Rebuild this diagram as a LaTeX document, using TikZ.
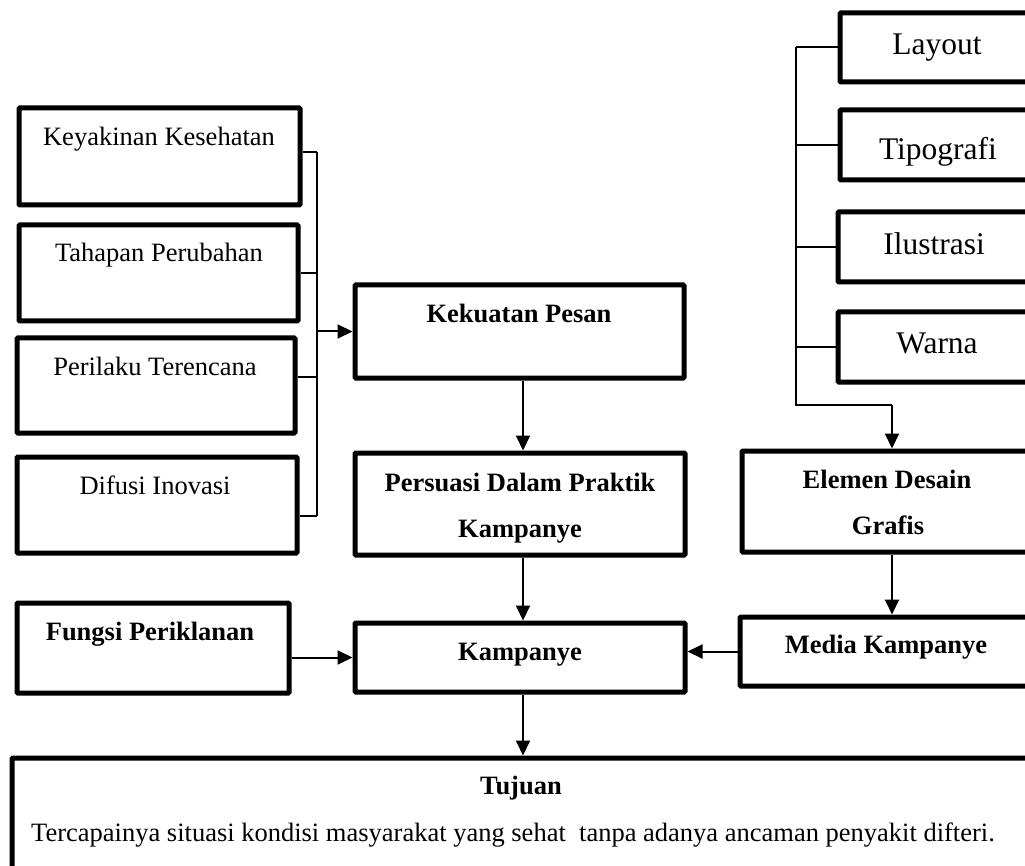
\documentclass[tikz,border=0pt]{standalone}
\usepackage{fontspec}
\setmainfont{Liberation Serif}
\usetikzlibrary{arrows.meta,calc}
\begin{document}
\begin{tikzpicture}[x=1pt,y=-1pt,
 box/.style={draw,line width=5pt,rounded corners=1pt,inner sep=0pt},
 conn/.style={line width=2pt},
 arr/.style={conn,-{Triangle[length=15pt,width=14pt]}},
 lbl/.style={anchor=base,inner sep=0pt,font=\fontsize{26.5}{32}\selectfont},
 blbl/.style={anchor=base,inner sep=0pt,font=\fontsize{26.5}{32}\selectfont\bfseries},
 rlbl/.style={anchor=base,inner sep=0pt,font=\fontsize{31.5}{38}\selectfont}]
\useasboundingbox (0,0) rectangle (1025,866);
\clip (0,0) rectangle (1025,866);
\fill[white] (0,0) rectangle (1025,866);
% boxes
\node[box,minimum width=281pt,minimum height=97pt] (k1) at (159.5,156.5) {};
\node[box,minimum width=279pt,minimum height=96pt] (k2) at (158.5,273) {};
\node[box,minimum width=278pt,minimum height=95pt] (k3) at (156,385.5) {};
\node[box,minimum width=280pt,minimum height=96pt] (k4) at (157,505) {};
\node[box,minimum width=329pt,minimum height=93pt] (kp) at (519.5,331.5) {};
\node[box,minimum width=330pt,minimum height=102pt] (pp) at (520,504) {};
\node[box,minimum width=330pt,minimum height=69pt] (kam) at (520,657.5) {};
\node[box,minimum width=272pt,minimum height=90pt] (fp) at (153,648) {};
\node[box,minimum width=300pt,minimum height=69pt] (mk) at (890,651.5) {};
\node[box,minimum width=298pt,minimum height=101pt] (el) at (891,501.5) {};
\node[box,minimum width=200pt,minimum height=69pt] (la) at (940,47.5) {};
\node[box,minimum width=200pt,minimum height=70pt] (ti) at (940,145) {};
\node[box,minimum width=202pt,minimum height=70pt] (il) at (939,247) {};
\node[box,minimum width=202pt,minimum height=70pt] (wa) at (939,347) {};
\node[box,minimum width=1028pt,minimum height=127pt] (tu) at (526,821.5) {};
% texts
\node[lbl] at (159,146) {Keyakinan Kesehatan};
\node[lbl] at (159,262) {Tahapan Perubahan};
\node[lbl] at (155,375) {Perilaku Terencana};
\node[lbl] at (155,494) {Difusi Inovasi};
\node[blbl] at (519,323) {Kekuatan Pesan};
\node[blbl] at (520,491) {Persuasi Dalam Praktik};
\node[blbl] at (520,537) {Kampanye};
\node[blbl] at (520,660) {Kampanye};
\node[blbl] at (150,640) {Fungsi Periklanan};
\node[blbl] at (887,488) {Elemen Desain};
\node[blbl] at (888,534) {Grafis};
\node[blbl] at (886,653) {Media Kampanye};
\node[rlbl] at (937,55) {Layout};
\node[rlbl] at (938,160) {Tipografi};
\node[rlbl] at (934,255) {Ilustrasi};
\node[rlbl] at (937,353) {Warna};
\node[blbl] at (521,794) {Tujuan};
\node[lbl] at (513,841) {Tercapainya situasi kondisi masyarakat yang sehat\ \ tanpa adanya ancaman penyakit difteri.};
% left bracket
\coordinate (busL) at (317,0);
\coordinate (s1) at ([yshift=4.5pt]k1.east);
\coordinate (s2) at (k2.east);
\coordinate (s3) at ([yshift=8.5pt]k3.east);
\coordinate (s4) at ([yshift=-11pt]k4.east);
\draw[conn] (s1) -- (s1 -| busL);
\draw[conn] (s2) -- (s2 -| busL);
\draw[conn] (s3) -- (s3 -| busL);
\draw[conn] (s4) -- (s4 -| busL);
\draw[conn] (s1 -| busL) -- (s4 -| busL);
\draw[arr] (busL |- kp.west) -- (kp.west);
% right bracket
\coordinate (busR) at (796,0);
\coordinate (rb) at (796,405);
\coordinate (rt) at (892,405);
\draw[conn] (la.west) -- (la.west -| busR);
\draw[conn] (ti.west) -- (ti.west -| busR);
\draw[conn] (il.west) -- (il.west -| busR);
\draw[conn] (wa.west) -- (wa.west -| busR);
\draw[conn] (la.west -| busR) -- (rb) -- (rt);
\draw[arr] (rt) -- (rt |- el.north);
% vertical flow
\coordinate (cx) at (523,0);
\draw[arr] (kp.south -| cx) -- (pp.north -| cx);
\draw[arr] (pp.south -| cx) -- (kam.north -| cx);
\draw[arr] (kam.south -| cx) -- (tu.north -| cx);
\draw[arr] (el.south -| rt) -- (mk.north -| rt);
\draw[arr] (mk.west) -- (mk.west -| kam.east);
\draw[arr] (fp.east |- kam.west) -- (kam.west);
\end{tikzpicture}
\end{document}
